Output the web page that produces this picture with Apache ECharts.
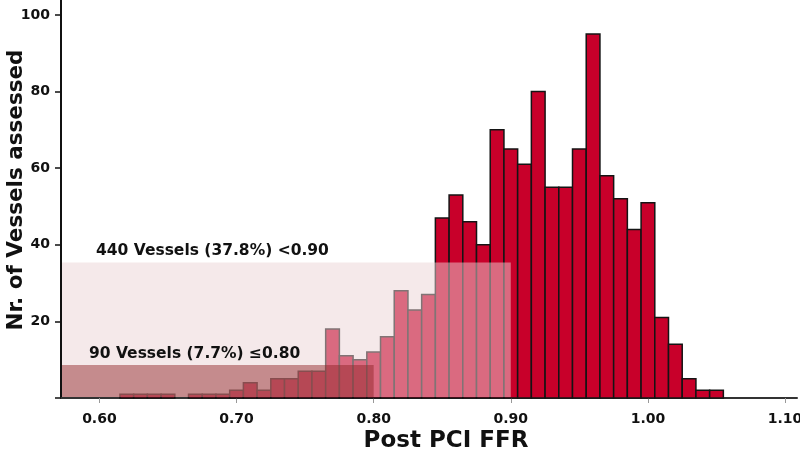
<!DOCTYPE html>
<html>
<head>
<meta charset="utf-8">
<script src="https://cdn.jsdelivr.net/npm/echarts@6/dist/echarts.min.js"></script>
<style>
html,body{margin:0;padding:0;background:#fff;}
#chart{width:800px;height:457px;}
</style>
</head>
<body>
<div id="chart"></div>
<script>
// Histogram bin centres (Post PCI FFR) and counts
const binCenters = [0.62,0.63,0.64,0.65,0.66,0.67,0.68,0.69,0.70,0.71,0.72,0.73,0.74,0.75,0.76,0.77,0.78,0.79,0.80,
  0.81,0.82,0.83,0.84,0.85,0.86,0.87,0.88,0.89,0.90,0.91,0.92,0.93,0.94,0.95,0.96,0.97,0.98,0.99,1.00,
  1.01,1.02,1.03,1.04,1.05];
const counts = [1,1,1,1,0,1,1,1,2,4,2,5,5,7,7,18,11,10,12,
  16,28,23,27,47,53,46,40,70,65,61,80,55,55,65,95,58,52,44,51,
  21,14,5,2,2];
const binWidth = 0.01;
const xTickLabels = [0.60,0.70,0.80,0.90,1.00,1.10];
const yTickLabels = [20,40,60,80,100];
// shaded threshold regions: threshold, shade height, label
const thresholds = [0.90, 0.80];
const shadeHeights = [35.4, 8.6];
const shadeLabels = ['440 Vessels (37.8%) <0.90', '90 Vessels (7.7%) \u22640.80'];

const X_MIN = 0.572, X_MAX = 1.1087, Y_MAX = 103.9;
const FONT = '"DejaVu Sans", Verdana, sans-serif';

const chart = echarts.init(document.getElementById('chart'), null, {renderer:'canvas'});
const shadeStyles = [
  {fill:'rgba(235,212,213,0.5)', textLeft:35},
  {fill:'rgba(142,34,37,0.47)', textLeft:28}
];

chart.setOption({
  animation:false,
  backgroundColor:'#fff',
  grid:{left:61, right:3, top:0, bottom:59, containLabel:false, outerBoundsMode:'none'},
  xAxis:{
    type:'value', min:X_MIN, max:X_MAX,
    splitLine:{show:false},
    axisLine:{show:true, onZero:false, lineStyle:{color:'#333', width:2}},
    axisTick:{show:true, length:5, lineStyle:{color:'#999', width:1}, customValues:xTickLabels},
    axisLabel:{customValues:xTickLabels, formatter:v=>v.toFixed(2), fontFamily:FONT, fontWeight:'bold', fontSize:14, color:'#111', margin:14},
    name:'Post PCI FFR', nameLocation:'middle', nameGap:32, nameMoveOverlap:false,
    nameTextStyle:{fontFamily:FONT, fontWeight:'bold', fontSize:23, color:'#111', padding:[0,0,0,34]}
  },
  yAxis:{
    type:'value', min:0, max:Y_MAX,
    splitLine:{show:false},
    axisLine:{show:true, lineStyle:{color:'#111', width:2}},
    axisTick:{show:true, length:6, lineStyle:{color:'#111', width:1.5}, customValues:[0].concat(yTickLabels)},
    axisLabel:{customValues:yTickLabels, fontFamily:FONT, fontWeight:'bold', fontSize:14, color:'#111', margin:11},
    name:'Nr. of Vessels assessed', nameLocation:'middle', nameGap:34, nameMoveOverlap:false,
    nameTextStyle:{fontFamily:FONT, fontWeight:'bold', fontSize:21.5, color:'#111', padding:[0,0,0,18]}
  },
  series:[
    {
      type:'custom', z:2,
      data: binCenters.map((c,i)=>[c, counts[i]]),
      renderItem:(params, api)=>{
        const x = api.value(0), y = api.value(1);
        if (!y) return null;
        const p0 = api.coord([x - binWidth/2, y]);
        const p1 = api.coord([x + binWidth/2, 0]);
        return {type:'rect', shape:{x:p0[0], y:p0[1], width:p1[0]-p0[0], height:p1[1]-p0[1]},
          style:{fill:'#C8002A', stroke:'#141414', lineWidth:1.5}};
      }
    },
    {
      type:'custom', z:3, silent:true,
      data: thresholds.map((t,i)=>[t, shadeHeights[i], i]),
      renderItem:(params, api)=>{
        const t = api.value(0), h = api.value(1), i = api.value(2);
        const p0 = api.coord([X_MIN, h]);
        const p1 = api.coord([t, 0]);
        const st = shadeStyles[i];
        return {type:'group', children:[
          {type:'rect', shape:{x:p0[0]+1, y:p0[1], width:p1[0]-p0[0]-1, height:p1[1]-p0[1]-1}, style:{fill:st.fill}},
          {type:'text', x:p0[0]+st.textLeft, y:p0[1]-11.5,
            style:{text:shadeLabels[i], font:'bold 15.5px '+FONT, fill:'#111', verticalAlign:'middle', align:'left'}}
        ]};
      }
    }
  ]
});
</script>
</body>
</html>
